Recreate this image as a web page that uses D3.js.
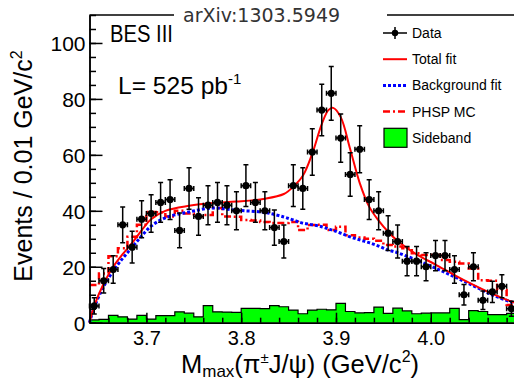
<!DOCTYPE html>
<html>
<head>
<meta charset="utf-8">
<script src="https://cdn.jsdelivr.net/npm/d3@7"></script>
<style>
  body { margin: 0; background: #fff; }
  svg { display: block; }
  text { font-family: "Liberation Sans", Arial, Helvetica, sans-serif; }
</style>
</head>
<body>
<script>
// bins of 0.01 GeV/c^2 starting at 3.64
const binStart = 3.64;
const binWidth = 0.01;

const dataCounts = [6, 15, 19, 35, 27, 37, 39, 43, 44, 33, 48, 38, 42, 43, 42, 40, 49, 43, 40, 34,
  29, 49, 48, 61, 76, 82, 66, 53, 62, 44, 40, 32, 29, 22, 22, 20, 24, 24, 19, 10, 20, 8, 11, 13, 5];
const dataErrors = [2.9, 4.4, 4.9, 6.4, 5.7, 6.6, 6.7, 7.1, 7.1, 6.2, 7.4, 6.7, 7.0, 7.1, 7.0, 6.8, 7.5,
  7.1, 6.8, 6.3, 5.9, 7.5, 7.4, 8.3, 9.2, 9.6, 8.6, 7.8, 8.4, 7.1, 6.8, 6.2, 5.9, 5.2, 5.2, 5.0, 5.4, 5.4,
  4.9, 3.7, 5.0, 3.3, 3.8, 4.1, 2.7];

const phspMC = [13.5, 17.6, 23.8, 26.6, 30.7, 35, 39.6, 39.5, 38, 40, 39, 38, 38.5, 41, 38, 37.9, 36.7,
  36.5, 36, 35.6, 35.6, 36, 33.1, 34.9, 35, 33.1, 34.3, 31.3, 30.5, 30, 29.3, 27.8, 27.2, 26.6, 24.8, 24.2,
  24.2, 22.4, 21.8, 21.2, 19.4, 15.2, 15, 11.7, 6.3];

const sideband = [1.0, 1.2, 2.6, 2.1, 1.3, 2.6, 1.3, 2.5, 2.5, 3.9, 3.4, 2.1, 6.1, 3.9, 3.8, 3.7, 5.1, 5.1,
  5.0, 6.1, 5.7, 4.5, 3.2, 4.5, 4.8, 4.6, 6.9, 4.0, 3.5, 3.6, 5.6, 3.3, 5.2, 4.2, 3.2, 3.4, 3.5, 3.5, 5.1,
  1.1, 4.3, 4.0, 2.9, 2.9, 3.3];

const fitMass = [3.640, 3.645, 3.655, 3.665, 3.675, 3.685, 3.695, 3.705, 3.720, 3.745, 3.770, 3.795, 3.825,
  3.845, 3.855, 3.865, 3.875, 3.885, 3.892, 3.897, 3.905, 3.915, 3.925, 3.935, 3.945, 3.955, 3.965, 3.985,
  4.005, 4.025, 4.045, 4.065, 4.085, 4.095];
const totalFit = [0, 6, 14, 20, 24.5, 28.5, 33, 37, 40, 41.8, 42.8, 43.3, 44.3, 46, 48.6, 52.5, 60.5, 71,
  76, 76.8, 73.5, 62, 50, 41.5, 36.5, 32.5, 29.2, 24.4, 20.8, 17, 13.5, 10.3, 7.6, 6.5];
const bgFit = [0, 5.5, 13, 18.5, 23, 27, 31, 34.5, 37.5, 39.6, 41, 40.2, 39.4, 37.8, 36.7, 35.6, 35, 34.3,
  33.5, 33, 32, 30.7, 29.6, 28.6, 27.4, 26, 25, 22.4, 19.5, 16.4, 13.2, 9.9, 7.4, 6.3];

const xMajorTicks = [3.7, 3.8, 3.9, 4.0];
const yMajorTicks = [0, 20, 40, 60, 80, 100];

const legendItems = ['Data', 'Total fit', 'Background fit', 'PHSP MC', 'Sideband'];

const width = 514;
const height = 380;
const frame = { left: 89.5, top: 15, bottom: 322.7 };

const x = d3.scaleLinear().domain([3.64, 4.1]).range([frame.left, frame.left + 0.46 * 948]);
const y = d3.scaleLinear().domain([0, 110]).range([frame.bottom, frame.top]);

const svg = d3.select('body').append('svg')
  .attr('width', width)
  .attr('height', height);

const binEdge = i => binStart + i * binWidth;
const binCenter = i => binStart + (i + 0.5) * binWidth;

// step outline for a histogram
function stepPoints(values) {
  const pts = [];
  values.forEach((v, i) => {
    pts.push([x(binEdge(i)), y(v)]);
    pts.push([x(binEdge(i + 1)), y(v)]);
  });
  return pts;
}

// sideband histogram
const sbPts = stepPoints(sideband);
svg.append('path')
  .attr('d', d3.line()([[sbPts[0][0], y(0)], ...sbPts, [sbPts[sbPts.length - 1][0], y(0)]]))
  .attr('fill', '#00ff00')
  .attr('stroke', '#000')
  .attr('stroke-width', 1.2);

// PHSP MC
svg.append('path')
  .attr('d', d3.line()(stepPoints(phspMC)))
  .attr('fill', 'none')
  .attr('stroke', '#ff0000')
  .attr('stroke-width', 2.5)
  .attr('stroke-dasharray', '7,3,2,3');

const curve = d3.line()
  .x(d => x(d[0]))
  .y(d => y(d[1]))
  .curve(d3.curveCatmullRom.alpha(0.5));

svg.append('path')
  .attr('d', curve(fitMass.map((m, i) => [m, bgFit[i]])))
  .attr('fill', 'none')
  .attr('stroke', '#0000ff')
  .attr('stroke-width', 3)
  .attr('stroke-dasharray', '3,2');

svg.append('path')
  .attr('d', curve(fitMass.map((m, i) => [m, totalFit[i]])))
  .attr('fill', 'none')
  .attr('stroke', '#ff0000')
  .attr('stroke-width', 2);

// data points with error bars
const cap = 2.5;
const points = svg.append('g')
  .attr('stroke', '#000')
  .attr('stroke-width', 1.5)
  .selectAll('g')
  .data(dataCounts.map((c, i) => ({ m: binCenter(i), c, e: dataErrors[i] })))
  .enter()
  .append('g');

points.append('path')
  .attr('fill', 'none')
  .attr('d', (d) => {
    const cx = x(d.m);
    const x0 = x(d.m - binWidth / 2);
    const x1 = x(d.m + binWidth / 2);
    const cy = y(d.c);
    const yTop = y(d.c + d.e);
    const yBot = y(d.c - d.e);
    return `M${cx},${yTop}V${yBot}`
      + `M${cx - cap},${yTop}H${cx + cap}M${cx - cap},${yBot}H${cx + cap}`
      + `M${x0},${cy}H${x1}`
      + `M${x0},${cy - cap}V${cy + cap}M${x1},${cy - cap}V${cy + cap}`;
  });

points.append('circle')
  .attr('cx', d => x(d.m))
  .attr('cy', d => y(d.c))
  .attr('r', 3.6)
  .attr('fill', '#000')
  .attr('stroke', 'none');

// axes, ROOT style ticks pointing inwards
const fontTick = 20;
const xAxisMinor = d3.axisBottom(x)
  .tickValues(d3.range(0, 23).map(k => 3.64 + k * 0.02))
  .tickSizeInner(-5)
  .tickSizeOuter(0)
  .tickFormat('');
const xAxisMajor = d3.axisBottom(x)
  .tickValues(xMajorTicks)
  .tickSizeInner(-10)
  .tickSizeOuter(0)
  .tickFormat(d3.format('.1f'));

svg.append('g')
  .attr('transform', `translate(0, ${frame.bottom})`)
  .call(xAxisMinor);
const gx = svg.append('g')
  .attr('transform', `translate(0, ${frame.bottom})`)
  .call(xAxisMajor);
gx.selectAll('text')
  .attr('y', 22)
  .attr('dy', 0)
  .attr('fill', '#000')
  .style('font-size', `${fontTick}px`);

const yAxisMinor = d3.axisLeft(y)
  .tickValues(d3.range(0, 23).map(k => k * 5))
  .tickSizeInner(-6.5)
  .tickSizeOuter(0)
  .tickFormat('');
const yAxisMajor = d3.axisLeft(y)
  .tickValues(yMajorTicks)
  .tickSizeInner(-13)
  .tickSizeOuter(0)
  .tickPadding(5);

svg.append('g')
  .attr('transform', `translate(${frame.left}, 0)`)
  .call(yAxisMinor);
const gy = svg.append('g')
  .attr('transform', `translate(${frame.left}, 0)`)
  .call(yAxisMajor);
gy.selectAll('text')
  .attr('x', -4)
  .attr('dy', '0.36em')
  .attr('fill', '#000')
  .style('font-size', '21px');

svg.selectAll('.domain, .tick line')
  .attr('stroke', '#000')
  .attr('stroke-width', 1.5);

// top frame line, with the arXiv stamp over it
svg.append('line')
  .attr('x1', frame.left)
  .attr('x2', width + 5)
  .attr('y1', frame.top)
  .attr('y2', frame.top)
  .attr('stroke', '#000')
  .attr('stroke-width', 1.5);
svg.append('rect')
  .attr('x', 174)
  .attr('y', 0)
  .attr('width', 213)
  .attr('height', 28)
  .attr('fill', '#fff');
svg.append('text')
  .attr('x', 183)
  .attr('y', 22)
  .attr('fill', '#333')
  .style('font-family', '"DejaVu Sans", Verdana, sans-serif')
  .style('font-size', '19px')
  .text('arXiv:1303.5949');

// labels in the plot
svg.append('text')
  .attr('x', 110)
  .attr('y', 42)
  .attr('textLength', 63)
  .attr('lengthAdjust', 'spacingAndGlyphs')
  .style('font-size', '23px')
  .text('BES III');

const lumi = svg.append('text')
  .attr('x', 118)
  .attr('y', 94)
  .style('font-size', '24px');
lumi.append('tspan').attr('textLength', 110).attr('lengthAdjust', 'spacingAndGlyphs').text('L= 525 pb');
lumi.append('tspan').attr('dy', -10).style('font-size', '15px').text('-1');

// axis titles
const yTitle = svg.append('text')
  .attr('transform', 'translate(32, 166) rotate(-90)')
  .attr('text-anchor', 'middle')
  .style('font-size', '25px');
yTitle.append('tspan').text('Events / 0.01 GeV/c');
yTitle.append('tspan').attr('dy', -10).style('font-size', '16px').text('2');

const xTitle = svg.append('text')
  .attr('x', 300)
  .attr('y', 373)
  .attr('text-anchor', 'middle')
  .style('font-size', '25.5px');
xTitle.append('tspan').text('M');
xTitle.append('tspan').attr('dy', 4).style('font-size', '17px').text('max');
xTitle.append('tspan').attr('dy', -4).text('(π');
xTitle.append('tspan').attr('dy', -10).style('font-size', '15px').text('±');
xTitle.append('tspan').attr('dy', 10).text('J/ψ) (GeV/c');
xTitle.append('tspan').attr('dy', -11).style('font-size', '16px').text('2');
xTitle.append('tspan').attr('dy', 11).text(')');

// legend
const legend = svg.append('g')
  .attr('transform', 'translate(383, 33)');
const rowGap = 26.2;

const rows = legend.selectAll('g')
  .data(legendItems)
  .enter()
  .append('g')
  .attr('transform', (d, i) => `translate(0, ${i * rowGap})`);

rows.append('text')
  .attr('x', 29)
  .attr('dy', '0.36em')
  .style('font-size', '14px')
  .text(d => d);

const dataRow = rows.filter((d, i) => i === 0);
dataRow.append('path')
  .attr('d', 'M0,0H24M12,-6V6')
  .attr('stroke', '#000')
  .attr('stroke-width', 1.5);
dataRow.append('circle').attr('cx', 12).attr('r', 3.2);

rows.filter((d, i) => i === 1).append('line')
  .attr('x2', 24)
  .attr('stroke', '#ff0000')
  .attr('stroke-width', 2);
rows.filter((d, i) => i === 2).append('line')
  .attr('x2', 24)
  .attr('stroke', '#0000ff')
  .attr('stroke-width', 3)
  .attr('stroke-dasharray', '3,2');
rows.filter((d, i) => i === 3).append('line')
  .attr('x2', 24)
  .attr('stroke', '#ff0000')
  .attr('stroke-width', 2.5)
  .attr('stroke-dasharray', '7,3,2,3');
rows.filter((d, i) => i === 4).append('rect')
  .attr('x', 1)
  .attr('y', -9.5)
  .attr('width', 23)
  .attr('height', 19)
  .attr('fill', '#00ff00')
  .attr('stroke', '#000')
  .attr('stroke-width', 1.2);
</script>
</body>
</html>
